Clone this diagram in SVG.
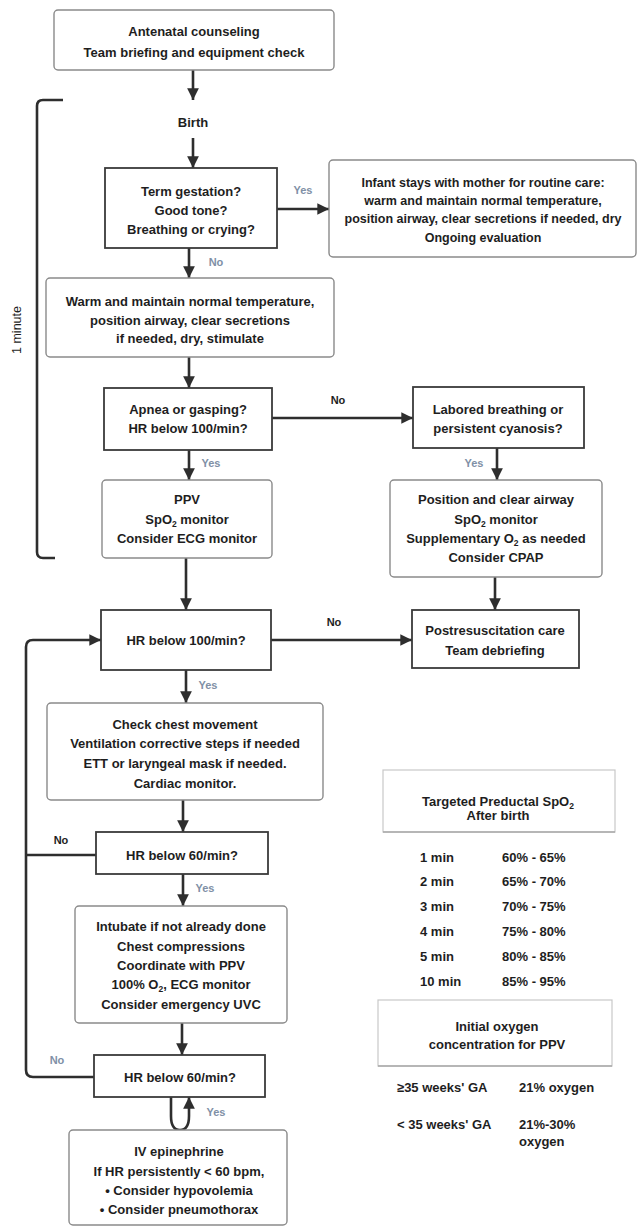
<svg xmlns="http://www.w3.org/2000/svg" width="638" height="1227" viewBox="0 0 638 1227">
<style>
text{font-family:"Liberation Sans",Arial,sans-serif;font-weight:bold;font-size:13px;fill:#1e1e1e;text-anchor:middle}
.act{fill:#fff;stroke:#8a8a8a;stroke-width:1.4}
.dec{fill:#fff;stroke:#3a3a3a;stroke-width:1.8}
.tb{fill:none;stroke:#c8c8c8;stroke-width:1.2}
.con{fill:none;stroke:#2e2e2e;stroke-width:2.6}
.lbl{font-size:11px;fill:#8090a6}
.lblk{font-size:11px;fill:#1e1e1e}
.sm{font-size:12.5px}
.l{text-anchor:start}
.sub{font-size:8.5px}
</style>
<defs>
<marker id="ah" viewBox="0 0 10 10" refX="10" refY="5" markerWidth="4.5" markerHeight="4.5" orient="auto" markerUnits="strokeWidth">
<path d="M0,0 L10,5 L0,10 z" fill="#2e2e2e"/>
</marker>
</defs>
<rect width="638" height="1227" fill="#fff"/>

<g id="connectors">
<line class="con" x1="193" y1="70" x2="193" y2="100" marker-end="url(#ah)"/>
<line class="con" x1="193" y1="138" x2="193" y2="168" marker-end="url(#ah)"/>
<line class="con" x1="277" y1="209" x2="329" y2="209" marker-end="url(#ah)"/>
<line class="con" x1="189" y1="248" x2="189" y2="278" marker-end="url(#ah)"/>
<line class="con" x1="189" y1="357" x2="189" y2="388" marker-end="url(#ah)"/>
<line class="con" x1="272" y1="418" x2="413" y2="418" marker-end="url(#ah)"/>
<line class="con" x1="189" y1="450" x2="189" y2="480" marker-end="url(#ah)"/>
<line class="con" x1="497" y1="448" x2="497" y2="480" marker-end="url(#ah)"/>
<line class="con" x1="186" y1="558" x2="186" y2="610" marker-end="url(#ah)"/>
<line class="con" x1="495" y1="577" x2="495" y2="610" marker-end="url(#ah)"/>
<line class="con" x1="271" y1="640" x2="412" y2="640" marker-end="url(#ah)"/>
<line class="con" x1="186" y1="670" x2="186" y2="703" marker-end="url(#ah)"/>
<line class="con" x1="183" y1="800" x2="183" y2="832" marker-end="url(#ah)"/>
<line class="con" x1="183" y1="874" x2="183" y2="906" marker-end="url(#ah)"/>
<line class="con" x1="182" y1="1023" x2="182" y2="1055" marker-end="url(#ah)"/>
<path class="con" d="M94,1077 H33 Q26,1077 26,1070 V647 Q26,640 33,640 H101" marker-end="url(#ah)"/>
<path class="con" d="M96,855 H26"/>
<path class="con" d="M171,1097 V1116 Q171,1130 180,1130 Q189,1130 189,1116 V1097" marker-end="url(#ah)"/>
<path class="con" d="M63,100 H43 Q37,100 37,106 V552 Q37,558 43,558 H55"/>
</g>

<text class="sm" transform="translate(21,330) rotate(-90)" style="font-weight:normal">1 minute</text>

<g id="antenatal">
<rect class="act" x="54" y="10" width="280" height="60" rx="4"/>
<text x="194" y="36">Antenatal counseling</text>
<text x="194" y="57">Team briefing and equipment check</text>
</g>
<g id="birth"><text x="193" y="127">Birth</text></g>

<g id="term">
<rect class="dec" x="105" y="168" width="172" height="80"/>
<text x="191" y="196">Term gestation?</text>
<text x="191" y="215">Good tone?</text>
<text x="191" y="234">Breathing or crying?</text>
</g>
<text class="lbl" x="303" y="194">Yes</text>
<text class="lbl" x="216" y="266">No</text>

<g id="routine">
<rect class="act" x="329" y="160" width="307" height="97" rx="4"/>
<text class="sm" x="483" y="187">Infant stays with mother for routine care:</text>
<text class="sm" x="483" y="205">warm and maintain normal temperature,</text>
<text class="sm" x="483" y="223">position airway, clear secretions if needed, dry</text>
<text class="sm" x="483" y="242">Ongoing evaluation</text>
</g>

<g id="warm">
<rect class="act" x="46" y="278" width="288" height="79" rx="4"/>
<text x="190" y="306">Warm and maintain normal temperature,</text>
<text x="190" y="325">position airway, clear secretions</text>
<text x="190" y="343">if needed, dry, stimulate</text>
</g>

<g id="apnea">
<rect class="dec" x="104" y="388" width="168" height="62"/>
<text x="188" y="414">Apnea or gasping?</text>
<text x="188" y="433">HR below 100/min?</text>
</g>
<text class="lblk" x="338" y="404">No</text>

<g id="labored">
<rect class="dec" x="413" y="387" width="171" height="61"/>
<text x="498" y="414">Labored breathing or</text>
<text x="498" y="433">persistent cyanosis?</text>
</g>
<text class="lbl" x="211" y="467">Yes</text>
<text class="lbl" x="474" y="467">Yes</text>

<g id="ppv">
<rect class="act" x="102" y="480" width="170" height="78" rx="4"/>
<text x="187" y="504">PPV</text>
<text x="187" y="524">SpO<tspan class="sub" dy="3">2</tspan><tspan dy="-3"> monitor</tspan></text>
<text x="187" y="543">Consider ECG monitor</text>
</g>

<g id="position">
<rect class="act" x="390" y="480" width="212" height="97" rx="4"/>
<text x="496" y="504">Position and clear airway</text>
<text x="496" y="524">SpO<tspan class="sub" dy="3">2</tspan><tspan dy="-3"> monitor</tspan></text>
<text x="496" y="543">Supplementary O<tspan class="sub" dy="3">2</tspan><tspan dy="-3"> as needed</tspan></text>
<text x="496" y="562">Consider CPAP</text>
</g>

<g id="hr100">
<rect class="dec" x="101" y="610" width="170" height="60"/>
<text x="186" y="645">HR below 100/min?</text>
</g>
<text class="lblk" x="334" y="626">No</text>

<g id="postresus">
<rect class="dec" x="412" y="610" width="167" height="58"/>
<text x="495" y="635">Postresuscitation care</text>
<text x="495" y="655">Team debriefing</text>
</g>
<text class="lbl" x="208" y="689">Yes</text>

<g id="chest">
<rect class="act" x="47" y="703" width="276" height="97" rx="4"/>
<text x="185" y="729">Check chest movement</text>
<text x="185" y="748">Ventilation corrective steps if needed</text>
<text x="185" y="768">ETT or laryngeal mask if needed.</text>
<text x="185" y="788">Cardiac monitor.</text>
</g>

<g id="hr60a">
<rect class="dec" x="96" y="832" width="172" height="42"/>
<text x="182" y="860">HR below 60/min?</text>
</g>
<text class="lblk" x="61" y="844">No</text>
<text class="lbl" x="205" y="892">Yes</text>

<g id="intubate">
<rect class="act" x="75" y="906" width="212" height="117" rx="4"/>
<text x="181" y="931">Intubate if not already done</text>
<text x="181" y="951">Chest compressions</text>
<text x="181" y="970">Coordinate with PPV</text>
<text x="181" y="989">100% O<tspan class="sub" dy="3">2</tspan><tspan dy="-3">, ECG monitor</tspan></text>
<text x="181" y="1009">Consider emergency UVC</text>
</g>

<g id="hr60b">
<rect class="dec" x="94" y="1055" width="171" height="42"/>
<text x="180" y="1082">HR below 60/min?</text>
</g>
<text class="lbl" x="57" y="1064">No</text>
<text class="lbl" x="216" y="1116">Yes</text>

<g id="epi">
<rect class="act" x="69" y="1130" width="218" height="95" rx="4"/>
<text x="179" y="1156">IV epinephrine</text>
<text x="179" y="1176">If HR persistently &lt; 60 bpm,</text>
<text x="179" y="1195">• Consider hypovolemia</text>
<text x="179" y="1214">• Consider pneumothorax</text>
</g>

<g id="table">
<rect class="tb" x="383" y="770" width="232" height="62"/>
<line x1="383" y1="832" x2="615" y2="832" stroke="#a8a8a8" stroke-width="1.4"/>
<text x="498" y="806">Targeted Preductal SpO<tspan class="sub" dy="3">2</tspan></text>
<text x="498" y="820">After birth</text>
<text class="l" x="420" y="862">1 min</text><text class="l" x="502" y="862">60% - 65%</text>
<text class="l" x="420" y="886">2 min</text><text class="l" x="502" y="886">65% - 70%</text>
<text class="l" x="420" y="911">3 min</text><text class="l" x="502" y="911">70% - 75%</text>
<text class="l" x="420" y="936">4 min</text><text class="l" x="502" y="936">75% - 80%</text>
<text class="l" x="420" y="961">5 min</text><text class="l" x="502" y="961">80% - 85%</text>
<text class="l" x="420" y="986">10 min</text><text class="l" x="502" y="986">85% - 95%</text>
<rect class="tb" x="378" y="1000" width="234" height="66"/>
<line x1="378" y1="1066" x2="612" y2="1066" stroke="#a8a8a8" stroke-width="1.4"/>
<text x="497" y="1031">Initial oxygen</text>
<text x="497" y="1049">concentration for PPV</text>
<text class="l" x="397" y="1092">≥35 weeks' GA</text><text class="l" x="519" y="1092">21% oxygen</text>
<text class="l" x="397" y="1129">&lt; 35 weeks' GA</text><text class="l" x="519" y="1129">21%-30%</text>
<text class="l" x="519" y="1146">oxygen</text>
</g>
</svg>
